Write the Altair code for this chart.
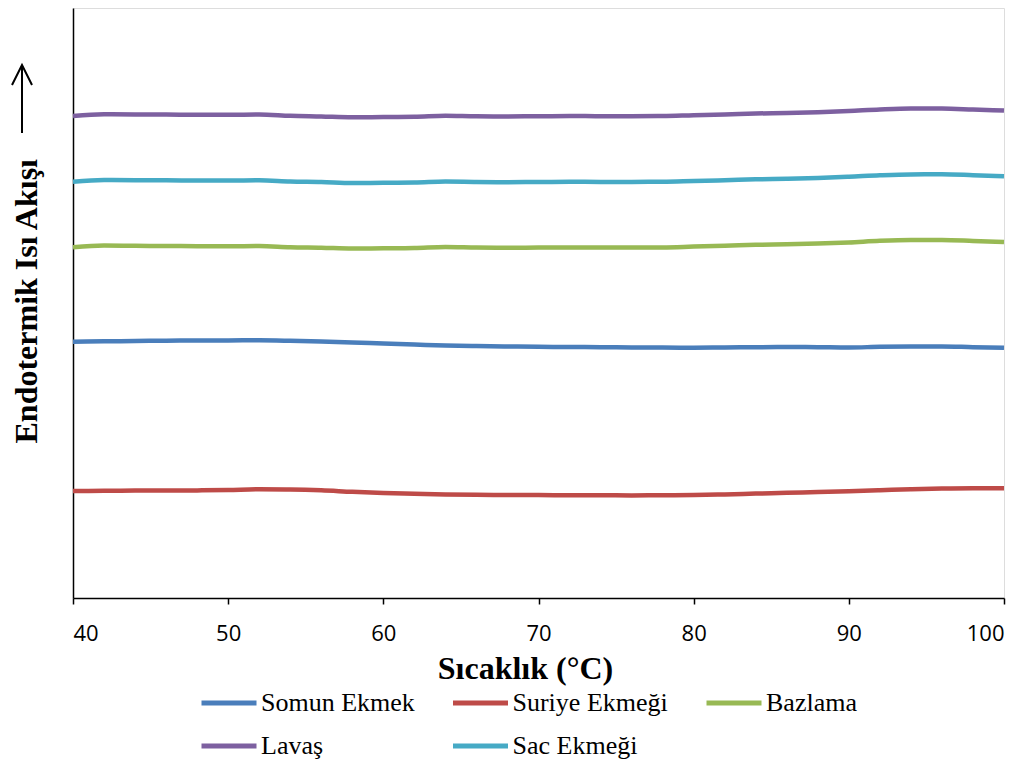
import altair as alt
import pandas as pd

temps = [40, 42, 44, 46, 48, 50, 52, 54, 56, 58, 60, 62, 64, 66, 68, 70,
         72, 74, 76, 78, 80, 82, 84, 86, 88, 90, 92, 94, 96, 98, 100]

somun = [25.63, 25.67, 25.70, 25.73, 25.75, 25.76, 25.77, 25.72, 25.64, 25.55, 25.45,
         25.35, 25.25, 25.20, 25.15, 25.12, 25.10, 25.08, 25.06, 25.04, 25.03, 25.05,
         25.08, 25.10, 25.08, 25.05, 25.12, 25.15, 25.16, 25.08, 25.02]
suriye = [10.70, 10.72, 10.74, 10.75, 10.76, 10.80, 10.87, 10.85, 10.77, 10.62, 10.50,
          10.42, 10.35, 10.32, 10.30, 10.29, 10.28, 10.27, 10.26, 10.27, 10.30, 10.36,
          10.44, 10.52, 10.60, 10.68, 10.78, 10.88, 10.95, 10.98, 10.98]
bazlama = [35.07, 35.25, 35.22, 35.20, 35.18, 35.17, 35.20, 35.08, 35.03, 34.95, 34.97,
           35.00, 35.10, 35.04, 35.02, 35.04, 35.06, 35.05, 35.05, 35.06, 35.14, 35.22,
           35.32, 35.38, 35.45, 35.56, 35.72, 35.80, 35.80, 35.71, 35.60]
lavas = [48.20, 48.37, 48.35, 48.34, 48.32, 48.32, 48.35, 48.22, 48.15, 48.07, 48.10,
         48.12, 48.22, 48.17, 48.16, 48.17, 48.20, 48.18, 48.18, 48.20, 48.28, 48.35,
         48.45, 48.50, 48.58, 48.70, 48.85, 48.94, 48.94, 48.85, 48.75]
sac = [41.63, 41.80, 41.78, 41.77, 41.75, 41.74, 41.77, 41.65, 41.60, 41.50, 41.52,
       41.54, 41.64, 41.60, 41.58, 41.60, 41.62, 41.61, 41.61, 41.62, 41.70, 41.78,
       41.87, 41.93, 42.00, 42.12, 42.27, 42.36, 42.37, 42.28, 42.17]

series_names = ["Somun Ekmek", "Suriye Ekmeği", "Bazlama", "Lavaş", "Sac Ekmeği"]
series_values = [somun, suriye, bazlama, lavas, sac]
series_colors = ["#4A7EBB", "#BE4B48", "#98B954", "#7D60A0", "#46AAC5"]
x_ticks = [40, 50, 60, 70, 80, 90, 100]

rows = []
for name, vals in zip(series_names, series_values):
    for t, v in zip(temps, vals):
        rows.append({"T": t, "v": v, "s": name})
df = pd.DataFrame(rows)

lines = alt.Chart(df).mark_line(strokeWidth=4.5, interpolate="monotone").encode(
    x=alt.X("T:Q",
            scale=alt.Scale(domain=[40, 100], nice=False),
            axis=alt.Axis(values=x_ticks, title="Sıcaklık (°C)", grid=False,
                          titleFont="Liberation Serif", titleFontSize=32, titleFontWeight="bold",
                          titleColor="black", titleX=452, titleY=80, titleAlign="center",
                          titleBaseline="alphabetic",
                          labelFont="Open Sans", labelFontSize=22, labelColor="black",
                          labelBaseline="alphabetic", labelPadding=36,
                          tickSize=6, tickColor="black", tickWidth=1.5,
                          domainColor="black", domainWidth=1.5)),
    y=alt.Y("v:Q",
            scale=alt.Scale(domain=[0, 59], nice=False),
            axis=alt.Axis(title="Endotermik Isı Akışı", labels=False, ticks=False, grid=False,
                          domainColor="black", domainWidth=1.5,
                          titleFont="Liberation Serif", titleFontSize=32, titleFontWeight="bold",
                          titleColor="black", titleAngle=270, titleAlign="left",
                          titleBaseline="alphabetic", titleX=-36.5, titleY=435)),
    color=alt.Color("s:N",
                    scale=alt.Scale(domain=series_names, range=series_colors),
                    legend=alt.Legend(title=None, orient="none", legendX=126, legendY=665,
                                      direction="horizontal",
                                      columns=3, columnPadding=27.5, rowPadding=-20,
                                      symbolType="stroke", symbolSize=3025,
                                      symbolStrokeWidth=5, labelFont="Liberation Serif",
                                      labelFontSize=26, labelColor="black", labelOffset=2,
                                      labelLimit=400, padding=0)),
)

anno = pd.DataFrame({"a": [0]})
arrow_shaft = alt.Chart(anno).mark_rule(color="black", strokeWidth=2).encode(
    x=alt.value(-51), y=alt.value(58), y2=alt.value(125))
arrow_head = alt.Chart(anno).mark_point(
    shape="M-0.5,1L0,0L0.5,1", filled=False, stroke="black", strokeWidth=2, size=1600, opacity=1
).encode(x=alt.value(-51), y=alt.value(57))

chart = alt.layer(lines, arrow_shaft, arrow_head).properties(
    width=931, height=590,
    autosize=alt.AutoSizeParams(type="none"),
    padding={"left": 65, "top": 0, "right": 20, "bottom": 162},
).configure_view(
    stroke="black", strokeWidth=1.5
).configure(background="white")

chart.save("out.html", embed_options={"renderer": "svg", "actions": False})
